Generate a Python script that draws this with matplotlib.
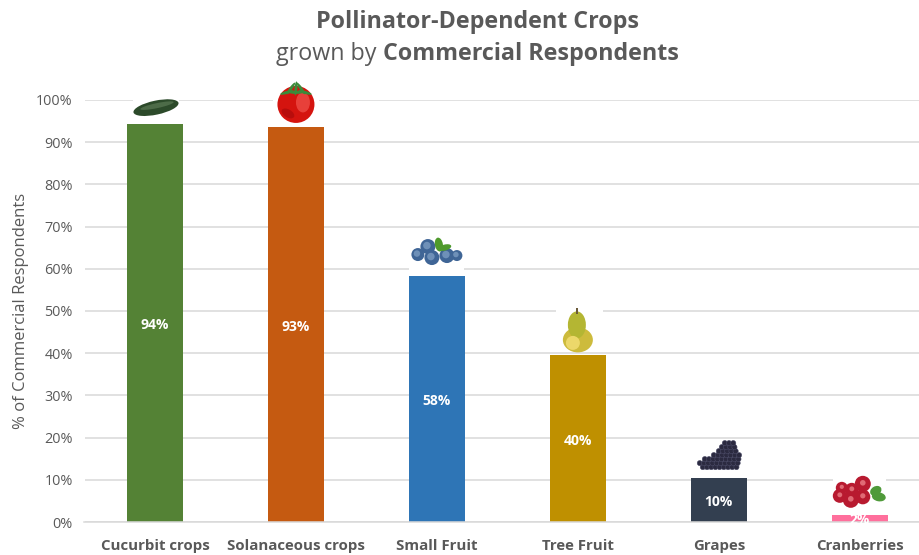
import matplotlib
matplotlib.use("Agg")
import numpy as np
import matplotlib.pyplot as plt
from matplotlib.patches import Ellipse, Circle, Rectangle
from matplotlib.transforms import Affine2D

crops = ["Cucurbit crops", "Solanaceous crops", "Small Fruit", "Tree Fruit", "Grapes", "Cranberries"]
percent = [94.4, 93.5, 58.4, 39.6, 10.4, 1.7]
percent_labels = ["94%", "93%", "58%", "40%", "10%", "2%"]
bar_colors = ["#548235", "#c55a11", "#2e75b6", "#bf9000", "#333f50", "#ff6f9c"]
y_ticks = [0, 10, 20, 30, 40, 50, 60, 70, 80, 90, 100]

plt.rcParams["font.family"] = ["Open Sans", "DejaVu Sans"]
GREY = "#595959"
W, H = 919, 555

fig = plt.figure(figsize=(W / 100, H / 100), dpi=100)
# axes box in pixels, the category band runs off the right edge like the original crop
ax = fig.add_axes([84.5 / W, (H - 522) / H, (W - 84.5) / W, 422 / H])
ax.set_xlim(-0.5, 5.42)
ax.set_ylim(0, 100)

ax.set_axisbelow(True)
ax.grid(axis="y", color="#d9d9d9", lw=1.1)
for s in ax.spines.values():
    s.set_visible(False)
ax.spines["bottom"].set_visible(True)
ax.spines["bottom"].set_color("#d9d9d9")
ax.spines["bottom"].set_linewidth(1.1)

x = np.arange(len(crops))
ax.bar(x, percent, width=0.4, color=bar_colors, zorder=2)

ax.set_yticks(y_ticks)
ax.set_yticklabels([f"{t}%" for t in y_ticks], fontsize=10.4, color=GREY)
ax.set_xticks(x)
ax.set_xticklabels(crops, fontsize=10.8, color=GREY, fontweight="bold")
ax.tick_params(axis="both", length=0)
ax.tick_params(axis="x", pad=12.5)
ax.tick_params(axis="y", pad=8.5)
fig.text(21 / W, (H - 311) / H, "% of Commercial Respondents", rotation=90, ha="center",
         va="center", fontsize=12, color=GREY)

for i, v in enumerate(percent):
    ax.annotate(percent_labels[i], (i, v / 2), xytext=(0, -1.5), textcoords="offset points",
                ha="center", va="center", color="white", fontsize=10,
                fontweight="bold", zorder=3)


# small drawn stand-ins for the photos, offsets are pixels from the top of each bar
def anchor(i):
    return Affine2D().translate(*ax.transData.transform((i, percent[i])))


def add(p, i, z=5):
    p.set_transform(anchor(i))
    p.set_clip_on(False)
    p.set_zorder(z)
    ax.add_artist(p)


def backing(i, x0, x1, y0, y1):
    add(Rectangle((x0, y0), x1 - x0, y1 - y0, fc="white", ec="none"), i, z=4)


def leaf(i, cx, cy, w, h, ang, col="#4f9a2c"):
    add(Ellipse((cx, cy), w, h, angle=ang, fc=col, ec="none"), i, z=6)


# cucumber
backing(0, -22, 24, 3, 30)
add(Ellipse((1, 16), 46, 14, angle=12, fc="#2c4a2a", ec="none"), 0)
add(Ellipse((2, 18), 34, 5, angle=12, fc="#4d6b48", ec="none"), 0, z=6)

# tomato
backing(1, -23, 23, 1, 46)
add(Circle((0, 23), 18.5, fc="#d5140f", ec="none"), 1)
add(Ellipse((7, 25), 14, 20, fc="#e8403a", ec="none"), 1, z=6)
add(Ellipse((-8, 14), 14, 8, angle=-30, fc="#b80d0c", ec="none"), 1, z=6)
for ang, cx, cy in [(55, -5, 39), (-55, 5, 39), (85, 0, 39), (15, -9, 35), (-15, 9, 35), (0, 0, 35)]:
    leaf(1, cx, cy, 14, 3, ang, "#3c8a3a")

# blueberries
backing(2, -28, 27, 1, 38)
for bx, by, r in [(-19, 21, 6.5), (-9, 29, 7.5), (-5, 18, 7.5), (10, 20, 7.5), (20, 20, 5.5)]:
    add(Circle((bx, by), r, fc="#3f6596", ec="none"), 2)
    add(Circle((bx - 1, by + 1), r * 0.5, fc="#6e90b8", ec="none"), 2, z=6)
leaf(2, 2, 31, 8, 14, 10)
leaf(2, 8, 28, 13, 6, 15)

# pear
backing(3, -22, 25, 3, 47)
add(Ellipse((0, 15), 30, 25, fc="#cdbb3c", ec="none"), 3)
add(Ellipse((-1, 30), 18, 27, fc="#b4b633", ec="none"), 3)
add(Ellipse((-5, 12), 14, 14, fc="#ecd86a", ec="none"), 3, z=6)
add(Rectangle((-2, 41), 2, 6, fc="#6b5a3a", ec="none"), 3, z=6)

# grapes
rows = [(11, -16, 18), (15, -20, 21), (19, -14, 21), (23, -6, 20), (27, 0, 18), (31, 2, 16), (35, 6, 14)]
for n, (row_y, x0, x1) in enumerate(rows):
    for gx in np.arange(x0 + n % 2, x1 + 1, 4.2):
        add(Circle((gx, row_y), 2.6, fc="#2b2a40", ec="#4a4a66", lw=0.4), 4)

# cranberries
backing(5, -27, 26, 1, 38)
for bx, by, r in [(-18, 27, 6), (-20, 19, 7), (-8, 25, 7), (-9, 15, 8), (3, 31, 8), (3, 18, 7.5)]:
    add(Circle((bx, by), r, fc="#b81a30", ec="none"), 5)
    add(Circle((bx, by + 1), r * 0.35, fc="#e06a75", ec="none"), 5, z=6)
leaf(5, 16, 24, 12, 9, 30, "#4f9a3a")
leaf(5, 19, 18, 14, 9, -10, "#4f9a3a")

# titles
fig.text(477.5 / W, (H - 22) / H, "Pollinator-Dependent Crops", ha="center", va="center",
         fontsize=16.75, fontweight="bold", color=GREY)
t1 = fig.text(276 / W, (H - 54) / H, "grown by ", ha="left", va="center", fontsize=16.75, color=GREY)
r = fig.canvas.get_renderer()
bb = t1.get_window_extent(r)
fig.text((bb.x1 + 1) / W, (H - 54) / H, "Commercial Respondents", ha="left", va="center",
         fontsize=16.75, fontweight="bold", color=GREY)

fig.savefig("out.png", dpi=100)
